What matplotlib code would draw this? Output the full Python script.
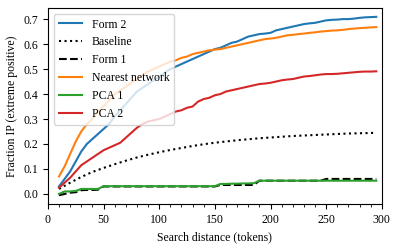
import matplotlib
matplotlib.use("Agg")
import matplotlib.pyplot as plt
from matplotlib.ticker import MultipleLocator

plt.rcParams["font.family"] = ["Liberation Serif", "DejaVu Serif"]
plt.rcParams["font.size"] = 8.5

# search distances (tokens)
dist = list(range(10, 300, 5))
dist_base = [10, 20, 30, 40, 50, 60, 70, 80, 90, 100, 110, 120, 130, 140, 150,
             160, 170, 180, 190, 200, 210, 220, 230, 240, 250, 260, 270, 280, 290, 295]

form2 = [0.03, 0.06, 0.09, 0.13, 0.17, 0.20, 0.22, 0.24, 0.26, 0.28, 0.31, 0.335,
         0.36, 0.385, 0.41, 0.425, 0.44, 0.455, 0.47, 0.485, 0.50, 0.51, 0.52, 0.53,
         0.54, 0.55, 0.56, 0.57, 0.58, 0.585, 0.595, 0.605, 0.61, 0.62, 0.63, 0.635,
         0.64, 0.642, 0.645, 0.655, 0.66, 0.665, 0.67, 0.675, 0.68, 0.683, 0.685,
         0.69, 0.695, 0.697, 0.698, 0.70, 0.70, 0.702, 0.705, 0.707, 0.708, 0.709]

baseline = [0.02, 0.045, 0.068, 0.088, 0.104, 0.119, 0.133, 0.146, 0.157, 0.167,
            0.176, 0.184, 0.192, 0.199, 0.205, 0.21, 0.215, 0.219, 0.223, 0.226,
            0.229, 0.232, 0.234, 0.236, 0.238, 0.24, 0.242, 0.243, 0.244, 0.245]

form1 = [-0.005, 0.0, 0.005, 0.007, 0.015, 0.016, 0.016, 0.017, 0.03,
         0.03, 0.03, 0.03, 0.03, 0.03, 0.03, 0.03, 0.03, 0.03, 0.03,
         0.03, 0.03, 0.03, 0.03, 0.03, 0.03, 0.03, 0.03, 0.03, 0.03,
         0.036, 0.036, 0.036, 0.036, 0.036, 0.036, 0.036,
         0.053, 0.053, 0.053, 0.053, 0.053, 0.053, 0.053, 0.053, 0.053, 0.053, 0.053, 0.053,
         0.06, 0.06, 0.06, 0.06, 0.06, 0.06, 0.06, 0.06, 0.06, 0.06]

nearest = [0.07, 0.11, 0.16, 0.21, 0.25, 0.28, 0.30, 0.33, 0.35, 0.375, 0.40, 0.415,
           0.43, 0.445, 0.46, 0.475, 0.49, 0.50, 0.51, 0.52, 0.53, 0.535, 0.545, 0.55,
           0.56, 0.565, 0.57, 0.575, 0.578, 0.58, 0.585, 0.59, 0.595, 0.60, 0.605, 0.61,
           0.615, 0.62, 0.622, 0.625, 0.63, 0.635, 0.637, 0.64, 0.642, 0.645, 0.647,
           0.65, 0.652, 0.654, 0.655, 0.657, 0.66, 0.662, 0.664, 0.665, 0.667, 0.668]

pca1 = [0.0, 0.01, 0.01, 0.012, 0.02, 0.02, 0.02, 0.02, 0.031,
        0.031, 0.031, 0.031, 0.031, 0.031, 0.031, 0.031, 0.031, 0.031, 0.031,
        0.031, 0.031, 0.031, 0.031, 0.031, 0.031, 0.031, 0.031, 0.031, 0.031,
        0.04, 0.04, 0.041, 0.041, 0.042, 0.042, 0.043,
        0.053, 0.053, 0.053, 0.053, 0.053, 0.053, 0.053, 0.053, 0.053, 0.053, 0.053,
        0.053, 0.053, 0.053, 0.053, 0.053, 0.053, 0.053, 0.053, 0.053, 0.053, 0.053]

pca2 = [0.025, 0.045, 0.065, 0.09, 0.115, 0.13, 0.145, 0.16, 0.175, 0.185, 0.195,
        0.205, 0.225, 0.245, 0.265, 0.28, 0.29, 0.295, 0.30, 0.31, 0.32, 0.33, 0.335,
        0.345, 0.35, 0.37, 0.38, 0.385, 0.395, 0.40, 0.41, 0.415, 0.42, 0.425, 0.43,
        0.435, 0.44, 0.442, 0.445, 0.45, 0.455, 0.458, 0.46, 0.465, 0.47, 0.472,
        0.475, 0.478, 0.48, 0.48, 0.481, 0.483, 0.485, 0.487, 0.489, 0.49, 0.49, 0.491]

fig = plt.figure(figsize=(3.99, 2.48), dpi=100)
ax = fig.add_axes([0.12, 0.177, 0.837, 0.791])

ax.plot(dist, form2, color="tab:blue", label="Form 2")
ax.plot(dist_base, baseline, color="black", linestyle=":", label="Baseline")
ax.plot(dist, form1, color="black", linestyle="--", label="Form 1")
ax.plot(dist, nearest, color="tab:orange", label="Nearest network")
ax.plot(dist, pca1, color="tab:green", label="PCA 1")
ax.plot(dist, pca2, color="tab:red", label="PCA 2")

ax.set_xlim(0, 300)
ax.xaxis.set_minor_locator(MultipleLocator(10))
ax.yaxis.set_major_locator(MultipleLocator(0.1))
ax.set_xlabel("Search distance (tokens)")
ax.set_ylabel("Fraction IP (extreme positive)")
ax.legend(loc="upper left")

fig.savefig("out.png", dpi=100)
